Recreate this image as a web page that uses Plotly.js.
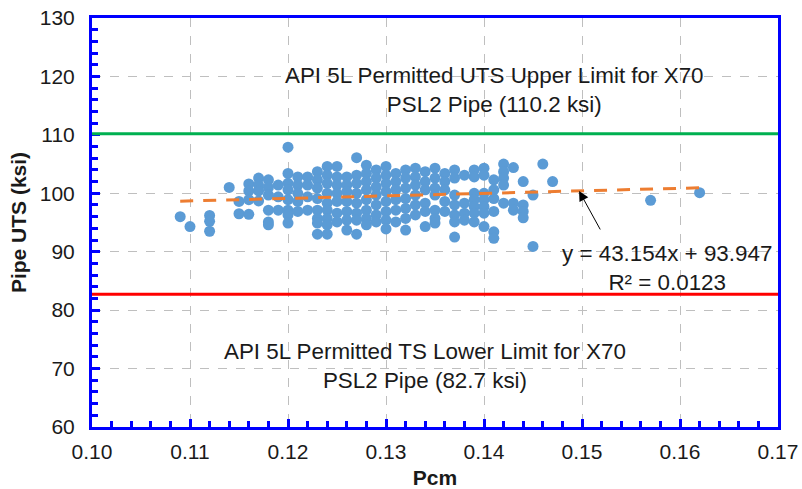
<!DOCTYPE html>
<html>
<head>
<meta charset="utf-8">
<script src="https://cdn.plot.ly/plotly-3.0.1.min.js"></script>
<style>html,body{margin:0;padding:0;background:#fff;}#chart{width:802px;height:489px;}</style>
</head>
<body>
<div id="chart"></div>
<script>
// Pcm values (x) and Pipe UTS values (y, ksi)
const pcm = [
  0.109,
  0.110,
  0.112, 0.112, 0.112,
  0.114,
  0.115, 0.115,
  0.116, 0.116, 0.116, 0.116,
  0.117, 0.117, 0.117, 0.117,
  0.118, 0.118, 0.118, 0.118, 0.118, 0.118,
  0.119, 0.119, 0.119,
  0.120, 0.120, 0.120, 0.120, 0.120, 0.120, 0.120, 0.120,
  0.121, 0.121, 0.121, 0.121, 0.121,
  0.122, 0.122, 0.122, 0.122,
  0.123, 0.123, 0.123, 0.123, 0.123, 0.123, 0.123, 0.123,
  0.124, 0.124, 0.124, 0.124, 0.124, 0.124, 0.124, 0.124, 0.124,
  0.125, 0.125, 0.125, 0.125, 0.125, 0.125, 0.125,
  0.126, 0.126, 0.126, 0.126, 0.126, 0.126, 0.126,
  0.127, 0.127, 0.127, 0.127, 0.127, 0.127, 0.127, 0.127,
  0.128, 0.128, 0.128, 0.128, 0.128, 0.128, 0.128, 0.128,
  0.129, 0.129, 0.129, 0.129, 0.129, 0.129, 0.129,
  0.130, 0.130, 0.130, 0.130, 0.130, 0.130, 0.130, 0.130,
  0.131, 0.131, 0.131, 0.131, 0.131, 0.131,
  0.132, 0.132, 0.132, 0.132, 0.132, 0.132, 0.132,
  0.133, 0.133, 0.133, 0.133, 0.133, 0.133,
  0.134, 0.134, 0.134, 0.134, 0.134, 0.134,
  0.135, 0.135, 0.135, 0.135, 0.135, 0.135, 0.135,
  0.136, 0.136, 0.136, 0.136, 0.136,
  0.137, 0.137, 0.137, 0.137, 0.137, 0.137, 0.137,
  0.138, 0.138, 0.138, 0.138,
  0.139, 0.139, 0.139, 0.139, 0.139, 0.139, 0.139,
  0.140, 0.140, 0.140, 0.140, 0.140, 0.140, 0.140,
  0.141, 0.141, 0.141, 0.141, 0.141, 0.141,
  0.142, 0.142, 0.142, 0.142, 0.142,
  0.143, 0.143, 0.143,
  0.144, 0.144, 0.144, 0.144,
  0.145, 0.145,
  0.146,
  0.147,
  0.157,
  0.162
];
const uts = [
  96.0,
  94.3,
  96.2, 95.2, 93.5,
  101.0,
  98.6, 96.5,
  101.6, 100.4, 98.9, 96.4,
  102.6, 101.4, 100.4, 98.7,
  102.3, 101.0, 99.7, 97.1, 95.1, 94.6,
  101.4, 99.4, 97.1,
  107.9, 103.4, 101.7, 100.6, 98.9, 97.1, 96.3, 94.9,
  102.8, 101.4, 100.0, 98.6, 96.9,
  102.8, 101.4, 99.4, 97.1,
  103.7, 102.3, 100.9, 99.1, 97.1, 95.7, 94.9, 93.0,
  104.6, 103.1, 101.7, 100.0, 98.3, 97.1, 95.7, 94.6, 93.0,
  104.6, 102.8, 101.4, 100.0, 98.6, 96.6, 95.1,
  102.8, 101.4, 100.3, 98.6, 96.9, 95.4, 93.7,
  106.1, 103.1, 101.7, 100.0, 98.3, 96.6, 95.4, 93.0,
  104.8, 103.4, 102.0, 100.6, 98.9, 97.1, 95.7, 94.6,
  104.0, 102.6, 101.1, 99.7, 98.0, 96.3, 95.1,
  104.6, 103.1, 101.7, 100.3, 98.6, 96.9, 95.4, 93.9,
  103.4, 102.0, 100.6, 98.9, 97.1, 95.1,
  104.0, 102.6, 100.9, 99.1, 97.4, 95.7, 93.7,
  104.3, 102.8, 101.4, 99.7, 98.0, 96.3,
  103.7, 102.0, 100.6, 98.3, 96.9, 94.3,
  104.3, 102.6, 100.9, 99.7, 97.1, 95.7, 94.9,
  103.4, 102.0, 100.6, 98.6, 96.9,
  104.0, 102.6, 99.7, 98.0, 96.3, 95.1, 92.5,
  103.1, 98.3, 96.6, 95.4,
  104.0, 102.8, 100.0, 98.9, 97.7, 96.6, 95.1,
  104.3, 103.1, 100.0, 98.9, 97.7, 96.6, 94.3,
  102.3, 100.6, 99.1, 96.9, 93.4, 92.3,
  105.0, 103.7, 102.6, 101.4, 98.3,
  104.4, 98.3, 97.1,
  102.0, 98.0, 96.9, 95.8,
  99.7, 90.9,
  105.0,
  102.0,
  98.8,
  100.1
];
// Linear trend shown on the chart
const trendSlope = 43.154;
const trendIntercept = 93.947;
const trendX = [Math.min(...pcm), Math.max(...pcm)];
const trendY = trendX.map(v => trendSlope * v + trendIntercept);
// Limits
const upperLimit = 110.2;
const lowerLimit = 82.7;
const xTickVals = [0.10, 0.11, 0.12, 0.13, 0.14, 0.15, 0.16, 0.17];
const yTickVals = [60, 70, 80, 90, 100, 110, 120, 130];

const FONT = '"Liberation Sans", Arial, sans-serif';
const BLUE = '#0000FF';
const TXT = '#1a1a1a';

const traces = [
  {
    type: 'scatter', mode: 'markers', x: pcm, y: uts,
    marker: {color: '#5B9BD5', size: 11},
    hoverinfo: 'x+y', showlegend: false
  },
  {
    type: 'scatter', mode: 'lines', x: trendX, y: trendY,
    line: {color: '#ED7D31', width: 3, dash: '13px,10px'},
    showlegend: false, hoverinfo: 'skip'
  }
];

const axisCommon = {
  showline: true, linecolor: BLUE, linewidth: 3, mirror: true,
  ticks: 'inside', tickcolor: BLUE, tickwidth: 3, ticklen: 8,
  showgrid: true, gridcolor: '#BFBFBF', griddash: 'dash', gridwidth: 1,
  zeroline: false,
  tickfont: {family: FONT, size: 21, color: TXT}
};

const layout = {
  width: 802, height: 489,
  margin: {l: 92, r: 24, t: 18, b: 62},
  paper_bgcolor: '#fff', plot_bgcolor: '#fff',
  showlegend: false,
  font: {family: FONT, color: TXT},
  xaxis: Object.assign({}, axisCommon, {
    range: [0.10, 0.17], tickvals: xTickVals, tickformat: '.2f',
    ticklabelstandoff: 4,
    minor: {dtick: 0.002, tick0: 0.10, ticks: 'inside', ticklen: 6, tickwidth: 3, tickcolor: BLUE, showgrid: false},
    title: {text: '<b>Pcm</b>', font: {family: FONT, size: 21, color: TXT}, standoff: 9}
  }),
  yaxis: Object.assign({}, axisCommon, {
    range: [60, 130], tickvals: yTickVals,
    ticklabelstandoff: 10,
    minor: {dtick: 2, tick0: 60, ticks: 'inside', ticklen: 6, tickwidth: 3, tickcolor: BLUE, showgrid: false},
    title: {text: '<b>Pipe UTS (ksi)</b>', font: {family: FONT, size: 21, color: TXT}, standoff: 8}
  }),
  shapes: [
    {type: 'line', xref: 'paper', x0: 0, x1: 1, yref: 'y', y0: upperLimit, y1: upperLimit,
     line: {color: '#00B050', width: 3}},
    {type: 'line', xref: 'paper', x0: 0, x1: 1, yref: 'y', y0: lowerLimit, y1: lowerLimit,
     line: {color: '#FF0000', width: 3}}
  ],
  annotations: [
    {x: 0.1411, y: 117.7, xref: 'x', yref: 'y', showarrow: false,
     text: 'API 5L Permitted UTS Upper Limit for X70<br>PSL2 Pipe (110.2 ksi)',
     font: {family: FONT, size: 22.4, color: TXT}, align: 'center'},
    {x: 0.134, y: 70.4, xref: 'x', yref: 'y', showarrow: false,
     text: 'API 5L Permitted TS Lower Limit for X70<br>PSL2 Pipe (82.7 ksi)',
     font: {family: FONT, size: 22.4, color: TXT}, align: 'center'},
    {x: 0.1587, y: 87.2, xref: 'x', yref: 'y', showarrow: false,
     text: 'y = 43.154x + 93.947<br>R² = 0.0123',
     font: {family: FONT, size: 22.4, color: TXT}, align: 'center'},
    {x: 0.1497, y: 100.4, xref: 'x', yref: 'y', text: '', showarrow: true,
     ax: 22, ay: 40, arrowhead: 2, arrowsize: 2, arrowwidth: 1, arrowcolor: '#000'}
  ]
};

Plotly.newPlot('chart', traces, layout, {displayModeBar: false, staticPlot: true});
</script>
</body>
</html>
